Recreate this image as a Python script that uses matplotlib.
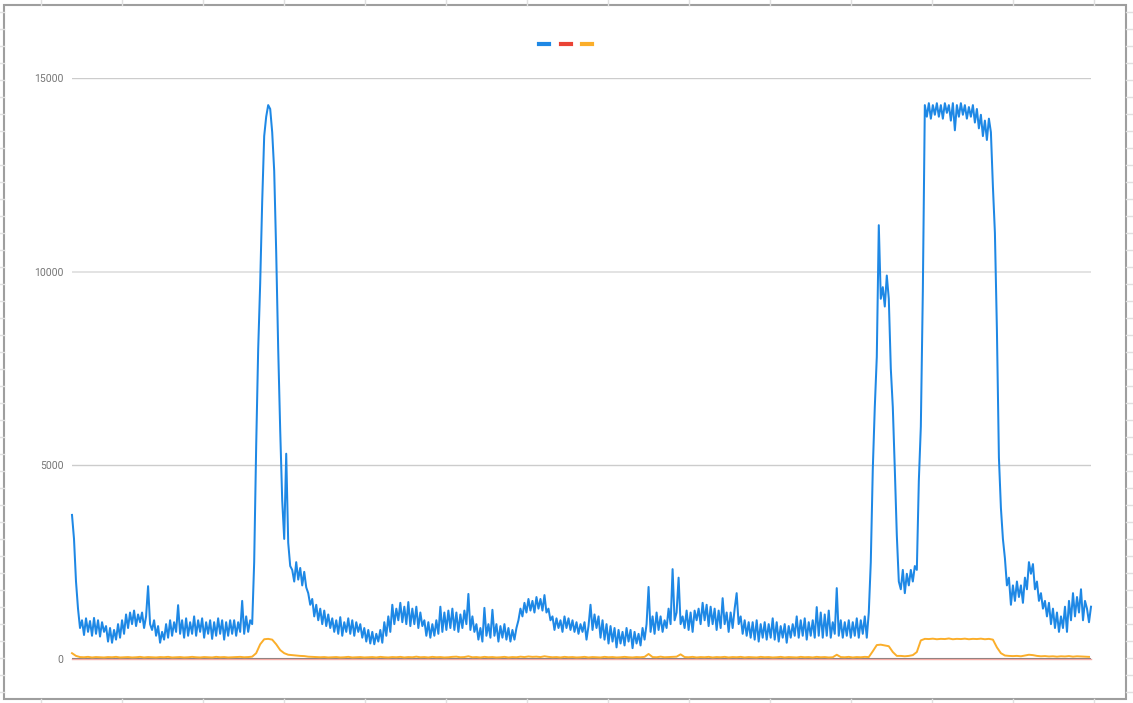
import numpy as np
import matplotlib
matplotlib.use('Agg')
import matplotlib.pyplot as plt
from matplotlib.lines import Line2D

# blue readings every ~2 px along the x axis of the original chart
blue_vals = [
    3720, 3100, 2000, 1300, 800, 1000, 620, 1050, 700, 980,
    600, 1060, 650, 1000, 580, 950, 700, 850, 450, 800,
    420, 750, 500, 900, 550, 1000, 650, 1150, 800, 1200,
    900, 1250, 850, 1150, 950, 1200, 800, 1100, 1880, 900,
    750, 1000, 600, 850, 420, 700, 500, 900, 550, 1000,
    600, 950, 700, 1390, 650, 1000, 550, 1050, 600, 950,
    650, 1100, 600, 1000, 700, 1050, 550, 950, 650, 1000,
    520, 950, 600, 1050, 650, 1000, 500, 950, 600, 1000,
    650, 1000, 600, 950, 700, 1500, 650, 1100, 700, 1000,
    900, 2500, 5500, 8000, 9700, 11800, 13500, 14000, 14300, 14200,
    13600, 12600, 10500, 8000, 5900, 4100, 3100, 5300, 3000, 2400,
    2300, 2000, 2500, 2050, 2350, 1900, 2250, 1850, 1700, 1400,
    1550, 1100, 1400, 1000, 1300, 900, 1250, 850, 1150, 800,
    1050, 700, 1000, 650, 1080, 600, 950, 700, 1050, 650,
    1000, 600, 950, 700, 900, 550, 800, 450, 750, 400,
    700, 380, 650, 450, 750, 420, 950, 600, 1100, 700,
    1400, 900, 1300, 1000, 1450, 950, 1350, 900, 1470, 850,
    1300, 900, 1350, 800, 1200, 850, 1000, 600, 950, 550,
    900, 600, 1000, 650, 1350, 700, 1200, 750, 1250, 800,
    1300, 750, 1200, 700, 1150, 800, 1250, 900, 1680, 750,
    1100, 700, 900, 500, 800, 450, 1320, 600, 900, 550,
    1270, 600, 900, 450, 850, 550, 900, 500, 800, 450,
    750, 500, 800, 1000, 1300, 1100, 1450, 1200, 1550, 1250,
    1500, 1200, 1600, 1300, 1550, 1250, 1650, 1200, 1300, 1000,
    1100, 750, 1050, 800, 1000, 700, 1100, 800, 1050, 750,
    1000, 700, 950, 650, 900, 700, 950, 500, 850, 1400,
    750, 1150, 800, 1100, 550, 1000, 500, 900, 400, 850,
    450, 800, 300, 750, 400, 700, 350, 800, 450, 750,
    280, 700, 400, 650, 350, 800, 500, 900, 1860, 700,
    1100, 650, 1200, 750, 1100, 700, 1000, 800, 1300, 900,
    2320, 1000, 1200, 2100, 900, 1100, 800, 1250, 750, 1200,
    700, 1250, 1000, 1300, 900, 1450, 1000, 1400, 850, 1350,
    900, 1300, 750, 1250, 800, 1570, 900, 1200, 700, 1200,
    800, 1300, 1700, 900, 1100, 650, 1000, 600, 950, 550,
    950, 500, 1000, 450, 900, 550, 950, 500, 900, 550,
    1050, 500, 950, 450, 850, 550, 900, 420, 850, 550,
    900, 600, 1100, 550, 1000, 600, 1050, 500, 950, 600,
    1000, 550, 1340, 600, 1200, 550, 1150, 600, 1250, 550,
    950, 650, 1830, 600, 1000, 550, 950, 600, 1000, 550,
    950, 600, 1050, 550, 1000, 650, 1100, 550, 1200, 2500,
    4900, 6500, 7800, 11200, 9300, 9600, 9100, 9900, 9300, 7500,
    6500, 4900, 3200, 2000, 1800, 2300, 1700, 2200, 1900, 2300,
    2000, 2400, 2300, 4600, 6000, 9500, 14300, 14000, 14350, 13950,
    14300, 14050, 14350, 14000, 14300, 13950, 14350, 14100, 14300, 13900,
    14350, 13650, 14300, 14000, 14350, 14050, 14300, 13950, 14250, 14000,
    14300, 13850, 14200, 13700, 14050, 13500, 13900, 13400, 13950, 13600,
    12200, 11000, 8500, 5200, 3900, 3100, 2600, 1900, 2100, 1400,
    1900, 1500, 2000, 1600, 1900, 1450, 2100, 1800, 2500, 2200,
    2450, 1800, 2000, 1500, 1700, 1300, 1500, 1100, 1450, 900,
    1300, 800, 1200, 700, 1100, 800, 1350, 700, 1500, 1000,
    1700, 1100, 1600, 1200, 1800, 1000, 1500, 1300, 950, 1350,
]

# orange is smooth, read at every other blue sample (~4 px)
orange_vals = [
    150, 80, 50, 45, 55, 40, 50, 45, 40, 50, 45, 55, 40, 45, 50,
    40, 45, 55, 40, 50, 45, 40, 50, 45, 55, 40, 45, 50, 40, 45,
    55, 45, 40, 50, 45, 40, 55, 45, 50, 40, 45, 50, 55, 45, 50,
    60, 150, 380, 510, 520, 500, 380, 230, 150, 110, 100, 90, 80, 75, 60,
    55, 50, 45, 50, 40, 45, 50, 40, 45, 55, 40, 45, 50, 40, 45,
    50, 40, 55, 45, 40, 50, 45, 55, 40, 50, 45, 60, 45, 50, 40,
    55, 45, 50, 40, 45, 55, 60, 45, 50, 70, 45, 50, 40, 55, 45,
    50, 40, 45, 55, 40, 50, 45, 60, 50, 65, 55, 60, 50, 70, 55,
    45, 50, 40, 55, 45, 50, 40, 45, 55, 40, 50, 45, 40, 55, 45,
    50, 40, 45, 55, 45, 40, 50, 45, 55, 130, 50, 45, 60, 45, 50,
    55, 60, 120, 50, 45, 55, 40, 50, 45, 55, 40, 50, 45, 55, 40,
    50, 45, 55, 40, 50, 45, 40, 55, 45, 50, 40, 45, 55, 40, 50,
    45, 40, 55, 45, 50, 40, 55, 45, 50, 40, 45, 110, 50, 45, 55,
    40, 50, 45, 55, 50, 200, 360, 370, 350, 330, 180, 80, 80, 70, 80,
    100, 180, 480, 520, 515, 525, 510, 520, 515, 530, 510, 520, 515, 525, 510,
    520, 515, 525, 510, 520, 500, 300, 150, 90, 80, 75, 80, 70, 90, 110,
    100, 80, 70, 75, 65, 70, 60, 70, 65, 75, 60, 70, 65, 60, 55,
]

red_vals = [0] * len(blue_vals)  # red series sits on zero the whole way

y_ticks = [0, 5000, 10000, 15000]

blue_c = '#1e88e5'
red_c = '#ea4335'
orange_c = '#fbae2a'

W, H = 1133, 703
fig = plt.figure(figsize=(W / 100, H / 100), dpi=100)

# spreadsheet cells behind the chart
bg = fig.add_axes([0, 0, 1, 1])
bg.set_xlim(0, W)
bg.set_ylim(H, 0)
bg.axis('off')
for k in range(14):
    cx = 40.7 + 81 * k
    bg.plot([cx, cx], [0, 5], color='#e0e0e0', lw=1)
    bg.plot([cx, cx], [699, H], color='#e0e0e0', lw=1)
for k in range(42):
    ry = 11.7 + 17 * k
    bg.plot([0, 4], [ry, ry], color='#e0e0e0', lw=1)
    bg.plot([1126, W], [ry, ry], color='#e0e0e0', lw=1)
bg.add_patch(plt.Rectangle((4, 5), 1122, 694, facecolor='white',
                           edgecolor='#9e9e9e', lw=1.5))

# chart plot area
left, right = 72 / W, 1091 / W
bottom, top = (H - 659) / H, (H - 78) / H
ax = fig.add_axes([left, bottom, right - left, top - bottom])
ax.set_facecolor('none')

x = np.arange(len(blue_vals))
ax.set_xlim(0, len(blue_vals) - 1)
ax.set_ylim(0, 15000)

for t in y_ticks[1:]:
    ax.axhline(t, color='#e3e3e3' if t == 10000 else '#cccccc',
               lw=1.4 if t == 10000 else 1.0, zorder=0)
ax.axhline(0, color='#8a8a8a', lw=1.5, zorder=1)

l_blue, = ax.plot(x, blue_vals, color=blue_c, lw=1.45, clip_on=False, zorder=3)
l_red, = ax.plot(x, red_vals, color=red_c, lw=1.0, alpha=0.45, clip_on=False, zorder=2)
l_orange, = ax.plot(x[::2], orange_vals, color=orange_c, lw=1.4, clip_on=False, zorder=4)

for s in ax.spines.values():
    s.set_visible(False)
ax.set_xticks([])
ax.set_yticks(y_ticks)
ax.set_yticklabels([str(t) for t in y_ticks], fontsize=7.5, color='#757575',
                   family='Roboto')
ax.tick_params(axis='y', length=0, pad=6)

handles = [Line2D([], [], color=c, lw=3) for c in (blue_c, red_c, orange_c)]
fig.legend(handles, ['', '', ''], loc='center', bbox_to_anchor=(565.5 / W, 1 - 45 / H),
           ncol=3, frameon=False, handlelength=0.72, handletextpad=0,
           columnspacing=0.85, fontsize=10)

fig.savefig('out.png', dpi=100)
